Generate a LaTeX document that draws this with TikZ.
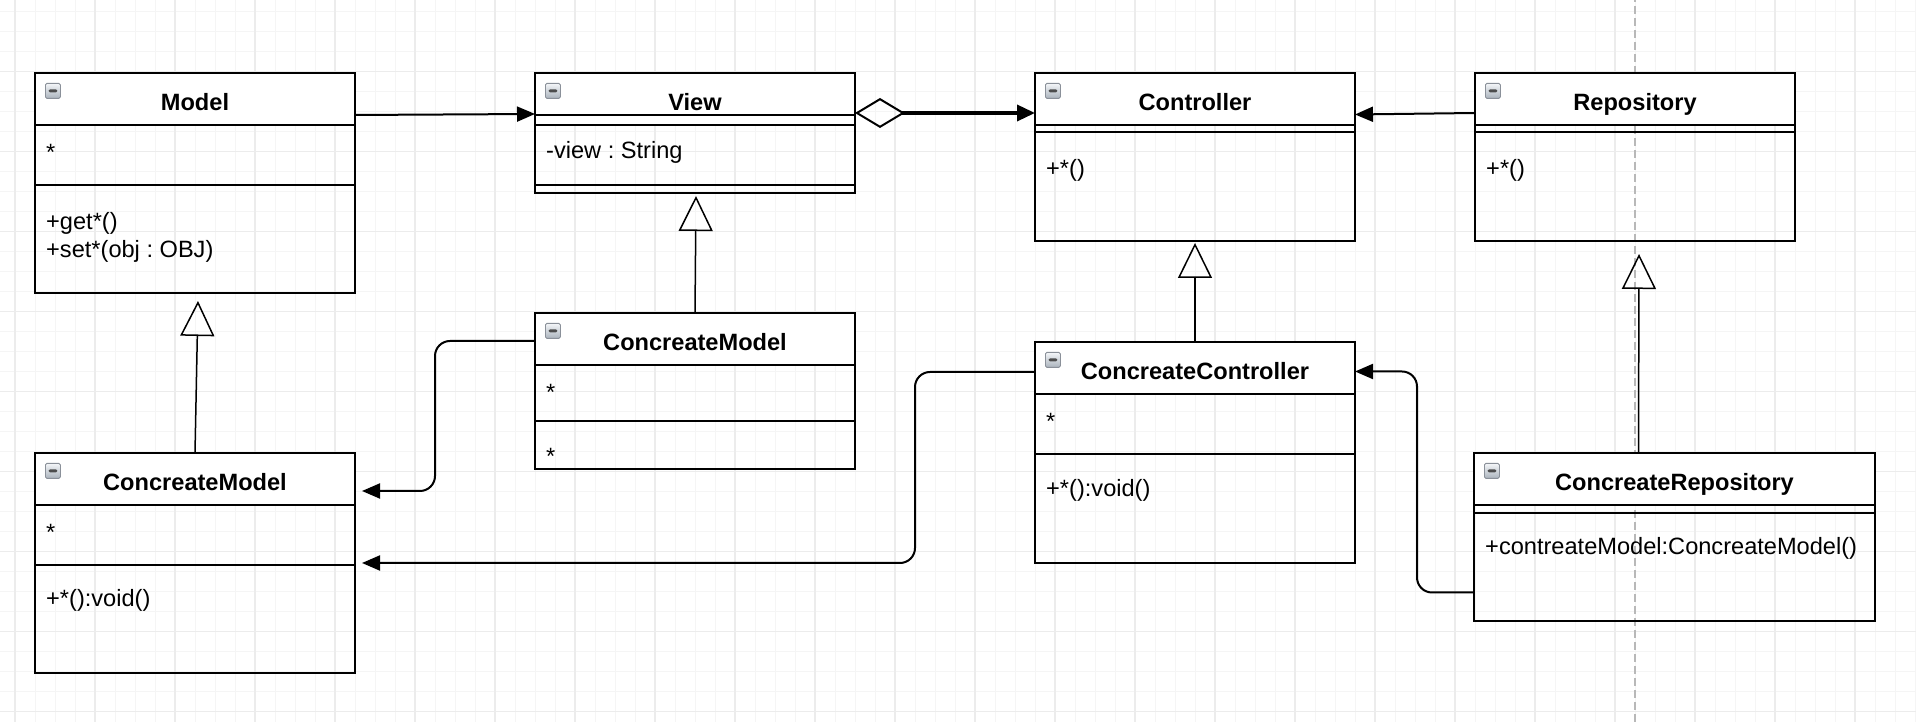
\documentclass[tikz,border=0pt]{standalone}
\usepackage{fontspec}
\setmainfont{Liberation Sans}
\frenchspacing
\usetikzlibrary{arrows.meta, positioning, calc}
\definecolor{gridminor}{HTML}{F5F5F5}
\definecolor{gridmajor}{HTML}{ECECEC}
\definecolor{guidegray}{HTML}{B8B8B8}
\definecolor{iconedge}{HTML}{8A9099}
\definecolor{icontop}{HTML}{F4F6F8}
\definecolor{iconbottom}{HTML}{AAB3BD}

\begin{document}
\begin{tikzpicture}[
  x=1pt, y=1pt,
  umlclass/.style={rectangle, draw, line width=2pt, anchor=north west, inner sep=0pt, outer sep=0pt, minimum width=320pt,
    path picture={\fill[white] (path picture bounding box.north west) rectangle ([yshift=-52pt]path picture bounding box.north east);}},
  classtitle/.style={font=\fontsize{23.6}{28}\selectfont\bfseries, anchor=base, inner sep=0pt},
  member/.style={font=\fontsize{23.6}{28}\selectfont, anchor=base west, inner sep=0pt},
  sepline/.style={line width=2pt},
  minusicon/.style={rectangle, draw=iconedge, line width=0.8pt, rounded corners=1.5pt, top color=icontop, bottom color=iconbottom,
    minimum size=15pt, inner sep=0pt, anchor=north west,
    path picture={\fill[black!70] ([xshift=-4.5pt,yshift=-1.5pt]path picture bounding box.center) rectangle ([xshift=4.5pt,yshift=1.5pt]path picture bounding box.center);}},
  assoc/.style={line width=2pt, -{Triangle[length=18pt, width=15pt]}},
  flow/.style={assoc, rounded corners=15pt},
  inherit/.style={line width=1.5pt, -{Triangle[open, length=35pt, width=34pt, line width=1.5pt]}},
  aggregate/.style={line width=3.5pt, {Diamond[open, length=50pt, width=30pt, line width=2pt]}-{Triangle[length=18pt, width=16pt]}},
  guide/.style={guidegray, line width=1.3pt, dash pattern=on 8pt off 4pt}
]
  \useasboundingbox (0,0) rectangle (1916,722);
  \fill[white] (0,0) rectangle (1916,722);

  % canvas grid
  \foreach \gx in {15,35,...,1915} \draw[gridminor, line width=1pt] (\gx,0) -- (\gx,722);
  \foreach \gy in {10.3,30.3,...,720} \draw[gridminor, line width=1pt] (0,\gy) -- (1916,\gy);
  \foreach \gx in {15,95,...,1915} \draw[gridmajor, line width=1.2pt] (\gx,0) -- (\gx,722);
  \foreach \gy in {10.3,90.3,...,720} \draw[gridmajor, line width=1.2pt] (0,\gy) -- (1916,\gy);
  \draw[guide] (1635,0) -- (1635,722);

  % Model
  \node[umlclass, minimum height=220pt] (model) at (35,649) {};
  \node[minusicon] (model-icon) at ([xshift=10pt,yshift=-10pt]model.north west) {};
  \node[classtitle] (model-title) at ([yshift=-37.5pt]model.north) {Model};
  \draw[sepline] ([yshift=-52pt]model.north west) -- ([yshift=-52pt]model.north east)
                 ([yshift=-112pt]model.north west) -- ([yshift=-112pt]model.north east);
  \node[member] (model-attr) at ([xshift=11pt,yshift=-87.5pt]model.north west) {*};
  \node[member] (model-get) at ([xshift=11pt,yshift=-157pt]model.north west) {+get*()};
  \node[member] (model-set) at ([xshift=11pt,yshift=-185pt]model.north west) {+set*(obj : OBJ)};

  % View
  \node[umlclass, minimum height=120pt] (view) at (535,649) {};
  \node[minusicon] (view-icon) at ([xshift=10pt,yshift=-10pt]view.north west) {};
  \node[classtitle] (view-title) at ([yshift=-37.5pt]view.north) {View};
  \draw[sepline] ([yshift=-42pt]view.north west) -- ([yshift=-42pt]view.north east)
                 ([yshift=-52pt]view.north west) -- ([yshift=-52pt]view.north east)
                 ([yshift=-112pt]view.north west) -- ([yshift=-112pt]view.north east);
  \node[member] (view-attr) at ([xshift=11pt,yshift=-86pt]view.north west) {-view : String};

  % Controller
  \node[umlclass, minimum height=168pt] (controller) at (1035,649) {};
  \node[minusicon] (controller-icon) at ([xshift=10pt,yshift=-10pt]controller.north west) {};
  \node[classtitle] (controller-title) at ([yshift=-37.5pt]controller.north) {Controller};
  \draw[sepline] ([yshift=-52pt]controller.north west) -- ([yshift=-52pt]controller.north east)
                 ([yshift=-59pt]controller.north west) -- ([yshift=-59pt]controller.north east);
  \node[member] (controller-op) at ([xshift=11pt,yshift=-104pt]controller.north west) {+*()};

  % Repository
  \node[umlclass, minimum height=168pt] (repository) at (1475,649) {};
  \node[minusicon] (repository-icon) at ([xshift=10pt,yshift=-10pt]repository.north west) {};
  \node[classtitle] (repository-title) at ([yshift=-37.5pt]repository.north) {Repository};
  \draw[sepline] ([yshift=-52pt]repository.north west) -- ([yshift=-52pt]repository.north east)
                 ([yshift=-59pt]repository.north west) -- ([yshift=-59pt]repository.north east);
  \node[member] (repository-op) at ([xshift=11pt,yshift=-104pt]repository.north west) {+*()};

  % ConcreateModel (of Model)
  \node[umlclass, minimum height=220pt] (cmodel) at (35,269) {};
  \node[minusicon] (cmodel-icon) at ([xshift=10pt,yshift=-10pt]cmodel.north west) {};
  \node[classtitle] (cmodel-title) at ([yshift=-37.5pt]cmodel.north) {ConcreateModel};
  \draw[sepline] ([yshift=-52pt]cmodel.north west) -- ([yshift=-52pt]cmodel.north east)
                 ([yshift=-112pt]cmodel.north west) -- ([yshift=-112pt]cmodel.north east);
  \node[member] (cmodel-attr) at ([xshift=11pt,yshift=-87.5pt]cmodel.north west) {*};
  \node[member] (cmodel-op) at ([xshift=11pt,yshift=-154pt]cmodel.north west) {+*():void()};

  % ConcreateModel (of View)
  \node[umlclass, minimum height=156pt] (cview) at (535,409) {};
  \node[minusicon] (cview-icon) at ([xshift=10pt,yshift=-10pt]cview.north west) {};
  \node[classtitle] (cview-title) at ([yshift=-37.5pt]cview.north) {ConcreateModel};
  \draw[sepline] ([yshift=-52pt]cview.north west) -- ([yshift=-52pt]cview.north east)
                 ([yshift=-108pt]cview.north west) -- ([yshift=-108pt]cview.north east);
  \node[member] (cview-attr) at ([xshift=11pt,yshift=-87.5pt]cview.north west) {*};
  \node[member] (cview-op) at ([xshift=11pt,yshift=-151.5pt]cview.north west) {*};

  % ConcreateController
  \node[umlclass, minimum height=221pt] (ccontroller) at (1035,380) {};
  \node[minusicon] (ccontroller-icon) at ([xshift=10pt,yshift=-10pt]ccontroller.north west) {};
  \node[classtitle] (ccontroller-title) at ([yshift=-37.5pt]ccontroller.north) {ConcreateController};
  \draw[sepline] ([yshift=-52pt]ccontroller.north west) -- ([yshift=-52pt]ccontroller.north east)
                 ([yshift=-112pt]ccontroller.north west) -- ([yshift=-112pt]ccontroller.north east);
  \node[member] (ccontroller-attr) at ([xshift=11pt,yshift=-88pt]ccontroller.north west) {*};
  \node[member] (ccontroller-op) at ([xshift=11pt,yshift=-155pt]ccontroller.north west) {+*():void()};

  % ConcreateRepository
  \node[umlclass, minimum width=401pt, minimum height=168pt] (crepository) at (1474,269) {};
  \node[minusicon] (crepository-icon) at ([xshift=10pt,yshift=-10pt]crepository.north west) {};
  \node[classtitle] (crepository-title) at ([yshift=-37.5pt]crepository.north) {ConcreateRepository};
  \draw[sepline] ([yshift=-52pt]crepository.north west) -- ([yshift=-52pt]crepository.north east)
                 ([yshift=-60pt]crepository.north west) -- ([yshift=-60pt]crepository.north east);
  \node[member] (crepository-op) at ([xshift=11pt,yshift=-102pt]crepository.north west) {+contreateModel:ConcreateModel()};

  % Connections
  \draw[assoc] ([yshift=-42pt]model.north east) -- ([yshift=-41pt]view.north west);
  \draw[aggregate] ([yshift=-40pt]view.north east) -- ([yshift=-40pt]controller.north west);
  \draw[assoc] ([yshift=-40pt]repository.north west) -- ([yshift=-41.5pt]controller.north east);
  \draw[inherit] (cmodel.north) -- ([xshift=3pt,yshift=-8pt]model.south);
  \draw[inherit] (cview.north) -- ([xshift=1pt,yshift=-3pt]view.south);
  \draw[inherit] (ccontroller.north) -- ([yshift=-2pt]controller.south);
  \draw[inherit] ([xshift=-36pt]crepository.north) -- ([xshift=4pt,yshift=-13pt]repository.south);
  \draw[flow] ([yshift=-28pt]cview.north west) -- ++(-100,0) |- ([xshift=7pt,yshift=-38pt]cmodel.north east);
  \draw[flow] ([yshift=-30pt]ccontroller.north west) -- ++(-120,0) |- ([xshift=7pt,yshift=-110pt]cmodel.north east);
  \draw[flow] ([yshift=-139.5pt]crepository.north west) -- ++(-57,0) |- ([yshift=-29.5pt]ccontroller.north east);
\end{tikzpicture}
\end{document}
